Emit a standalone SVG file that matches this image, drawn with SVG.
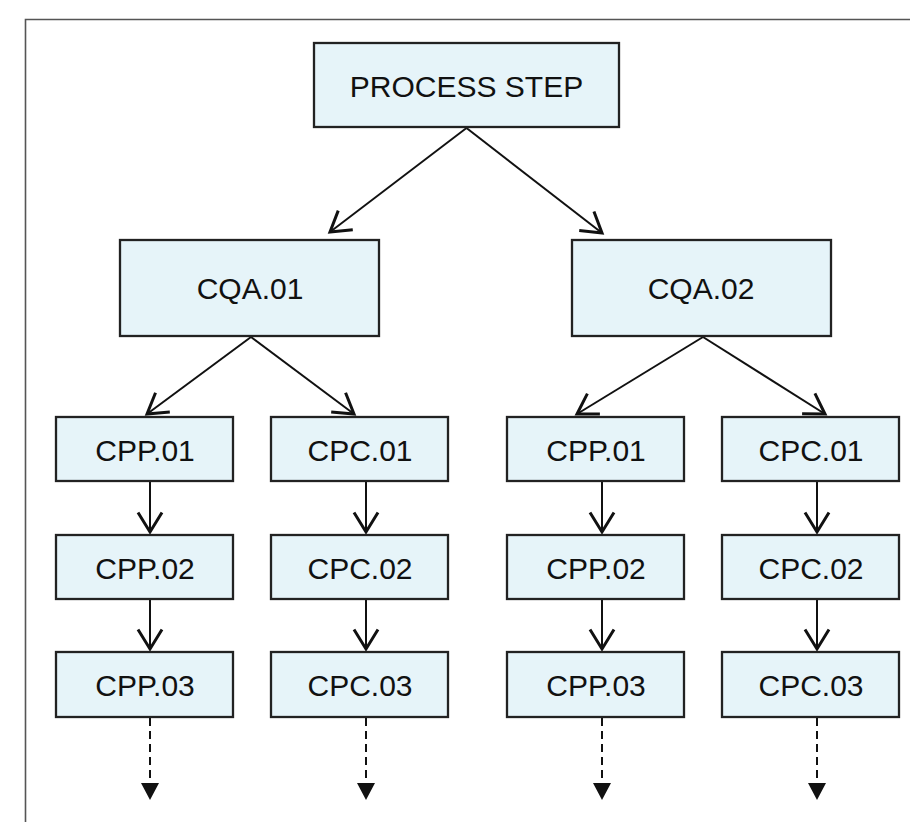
<svg xmlns="http://www.w3.org/2000/svg" width="910" height="822" viewBox="0 0 910 822">
<defs>
<style>
.box{fill:#e6f4f9;stroke:#222;stroke-width:2.3}
.lbl{font-family:"Liberation Sans",Arial,sans-serif;font-size:30px;fill:#111;text-anchor:middle}
.con{stroke:#111;stroke-width:2;fill:none}
.dash{stroke:#111;stroke-width:2;fill:none;stroke-dasharray:8 5}
</style>
<marker id="open" markerUnits="userSpaceOnUse" markerWidth="30" markerHeight="30" viewBox="-15 -10 20 20" refX="0" refY="0" orient="auto">
<path d="M-13,-8 L0,0 L-13,8" fill="none" stroke="#111" stroke-width="2"/>
</marker>
</defs>
<rect width="910" height="822" fill="#fff"/>
<path d="M25.5,822 V19.5 H910" fill="none" stroke="#555" stroke-width="1.6"/>
<g id="connectors">
<line class="con" x1="466.5" y1="128" x2="330" y2="232" marker-end="url(#open)"/>
<line class="con" x1="466.5" y1="128" x2="602" y2="233" marker-end="url(#open)"/>
<line class="con" x1="251" y1="337" x2="147" y2="414" marker-end="url(#open)"/>
<line class="con" x1="251" y1="337" x2="354" y2="414" marker-end="url(#open)"/>
<line class="con" x1="703" y1="337" x2="577" y2="414" marker-end="url(#open)"/>
<line class="con" x1="703" y1="337" x2="825" y2="414" marker-end="url(#open)"/>
<line class="con" x1="150" y1="482" x2="150" y2="532" marker-end="url(#open)"/>
<line class="con" x1="366" y1="482" x2="366" y2="532" marker-end="url(#open)"/>
<line class="con" x1="602" y1="482" x2="602" y2="532" marker-end="url(#open)"/>
<line class="con" x1="817" y1="482" x2="817" y2="532" marker-end="url(#open)"/>
<line class="con" x1="150" y1="600" x2="150" y2="649" marker-end="url(#open)"/>
<line class="con" x1="366" y1="600" x2="366" y2="649" marker-end="url(#open)"/>
<line class="con" x1="602" y1="600" x2="602" y2="649" marker-end="url(#open)"/>
<line class="con" x1="817" y1="600" x2="817" y2="649" marker-end="url(#open)"/>
<line class="dash" x1="150" y1="718" x2="150" y2="782"/>
<line class="dash" x1="366" y1="718" x2="366" y2="782"/>
<line class="dash" x1="602" y1="718" x2="602" y2="782"/>
<line class="dash" x1="817" y1="718" x2="817" y2="782"/>
<path d="M141,783 H159 L150,800 Z M357,783 H375 L366,800 Z M593,783 H611 L602,800 Z M808,783 H826 L817,800 Z" fill="#111"/>
</g>
<g id="process-step"><rect class="box" x="314" y="43" width="305" height="84"/><text class="lbl" x="466.5" y="96.5">PROCESS STEP</text></g>
<g id="cqa-01"><rect class="box" x="120" y="240" width="259" height="96"/><text class="lbl" x="250" y="298.5">CQA.01</text></g>
<g id="cqa-02"><rect class="box" x="572" y="240" width="259" height="96"/><text class="lbl" x="701" y="298.5">CQA.02</text></g>
<g id="cpp-01-a"><rect class="box" x="56" y="417" width="177" height="64"/><text class="lbl" x="145" y="460.5">CPP.01</text></g>
<g id="cpp-02-a"><rect class="box" x="56" y="535" width="177" height="64"/><text class="lbl" x="145" y="578.5">CPP.02</text></g>
<g id="cpp-03-a"><rect class="box" x="56" y="652" width="177" height="65"/><text class="lbl" x="145" y="695.5">CPP.03</text></g>
<g id="cpc-01-a"><rect class="box" x="271" y="417" width="177" height="64"/><text class="lbl" x="360" y="460.5">CPC.01</text></g>
<g id="cpc-02-a"><rect class="box" x="271" y="535" width="177" height="64"/><text class="lbl" x="360" y="578.5">CPC.02</text></g>
<g id="cpc-03-a"><rect class="box" x="271" y="652" width="177" height="65"/><text class="lbl" x="360" y="695.5">CPC.03</text></g>
<g id="cpp-01-b"><rect class="box" x="507" y="417" width="177" height="64"/><text class="lbl" x="596" y="460.5">CPP.01</text></g>
<g id="cpp-02-b"><rect class="box" x="507" y="535" width="177" height="64"/><text class="lbl" x="596" y="578.5">CPP.02</text></g>
<g id="cpp-03-b"><rect class="box" x="507" y="652" width="177" height="65"/><text class="lbl" x="596" y="695.5">CPP.03</text></g>
<g id="cpc-01-b"><rect class="box" x="722" y="417" width="177" height="64"/><text class="lbl" x="811" y="460.5">CPC.01</text></g>
<g id="cpc-02-b"><rect class="box" x="722" y="535" width="177" height="64"/><text class="lbl" x="811" y="578.5">CPC.02</text></g>
<g id="cpc-03-b"><rect class="box" x="722" y="652" width="177" height="65"/><text class="lbl" x="811" y="695.5">CPC.03</text></g>
</svg>
